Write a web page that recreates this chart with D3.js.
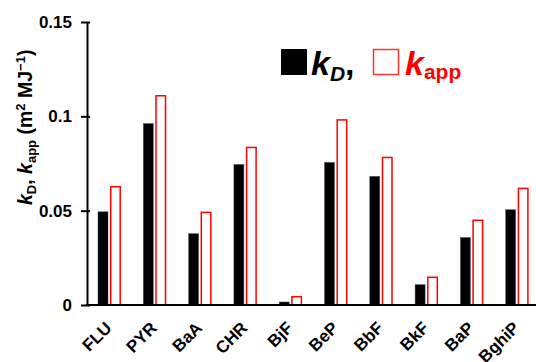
<!DOCTYPE html>
<html>
<head>
<meta charset="utf-8">
<script src="https://cdn.jsdelivr.net/npm/d3@7"></script>
<style>
  body { margin: 0; background: #fff; }
  text { font-family: "Liberation Sans", Arial, sans-serif; font-weight: bold; }
</style>
</head>
<body>
<div id="chart"></div>
<script>
// data
const compounds = ["FLU", "PYR", "BaA", "CHR", "BjF", "BeP", "BbF", "BkF", "BaP", "BghiP"]
const kD = [0.0494, 0.0962, 0.0378, 0.0745, 0.0016, 0.0756, 0.0682, 0.0108, 0.0358, 0.0505]
const kApp = [0.0627, 0.1109, 0.0491, 0.0835, 0.0044, 0.0981, 0.0782, 0.0147, 0.0449, 0.0618]
const yTicks = [0, 0.05, 0.1, 0.15]

const width = 536, height = 362
const margin = { top: 22, left: 87, bottom: 57 }

const svg = d3.select("#chart").append("svg")
    .attr("width", width)
    .attr("height", height)

const x = d3.scaleBand()
    .domain(compounds)
    .range([margin.left, margin.left + 10 * 45.3])

const y = d3.scaleLinear()
    .domain([0, 0.15])
    .range([height - margin.bottom, margin.top])

// bars
const barW = 10
svg.append("g").selectAll("rect")
    .data(compounds)
    .enter().append("rect")
    .attr("x", d => x(d) + 11)
    .attr("y", (d, i) => y(kD[i]))
    .attr("width", barW)
    .attr("height", (d, i) => y(0) - y(kD[i]))
    .attr("fill", "#000")
    .attr("stroke", "#555")
    .attr("stroke-width", 0.5)

svg.append("g").selectAll("rect")
    .data(compounds)
    .enter().append("rect")
    .attr("x", d => x(d) + 23.7)
    .attr("y", (d, i) => y(kApp[i]))
    .attr("width", barW - 0.5)
    .attr("height", (d, i) => y(0) - y(kApp[i]))
    .attr("fill", "#fff")
    .attr("stroke", "#f00")
    .attr("stroke-width", 1.5)

// y axis
const yAxis = svg.append("g")
    .attr("transform", `translate(${margin.left},0)`)
    .call(d3.axisLeft(y).tickValues(yTicks).tickSizeInner(6).tickSizeOuter(0)
        .tickFormat(d => d === 0 ? "0" : String(d)))
yAxis.select(".domain").attr("stroke-width", 2)
yAxis.selectAll(".tick line").attr("x2", 3).attr("x1", -6).attr("stroke-width", 2)
yAxis.selectAll(".tick text")
    .attr("x", -15)
    .attr("font-size", 17)
    .attr("font-family", "Liberation Sans, Arial, sans-serif")

// x axis
svg.append("line")
    .attr("x1", margin.left - 1).attr("x2", width)
    .attr("y1", y(0)).attr("y2", y(0))
    .attr("stroke", "#000")
    .attr("stroke-width", 2)

svg.append("g").selectAll("text")
    .data(compounds)
    .enter().append("text")
    .attr("transform", d => `translate(${x(d) + x.bandwidth() / 2 + 3},${y(0) + 24}) rotate(-45)`)
    .attr("text-anchor", "end")
    .attr("font-size", 17)
    .text(d => d)

// y title
const yt = svg.append("text")
    .attr("transform", `translate(32,205) rotate(-90)`)
    .attr("text-anchor", "start")
    .attr("font-size", 19.5)
yt.append("tspan").attr("font-style", "italic").text("k")
yt.append("tspan").attr("font-size", 13).attr("dy", 4).text("D")
yt.append("tspan").attr("dy", -4).text(", ")
yt.append("tspan").attr("font-style", "italic").text("k")
yt.append("tspan").attr("font-size", 13).attr("dy", 4).text("app")
yt.append("tspan").attr("dy", -4).text(" (m")
yt.append("tspan").attr("font-size", 13).attr("dy", -7).text("2")
yt.append("tspan").attr("dy", 7).text(" MJ")
yt.append("tspan").attr("font-size", 13).attr("dy", -7).text("\u22121")
yt.append("tspan").attr("dy", 7).text(")")

// legend
svg.append("rect")
    .attr("x", 281).attr("y", 49).attr("width", 26).attr("height", 26)
    .attr("fill", "#000")
const l1 = svg.append("text").attr("x", 311).attr("y", 75).attr("font-size", 34)
l1.append("tspan").attr("font-style", "italic").text("k")
l1.append("tspan").attr("font-style", "italic").attr("font-size", 21).attr("dy", 6).text("D")
l1.append("tspan").attr("dy", -6).text(",")

svg.append("rect")
    .attr("x", 373.5).attr("y", 49.5).attr("width", 25).attr("height", 25)
    .attr("fill", "#fff").attr("stroke", "#f33").attr("stroke-width", 1.5)
const l2 = svg.append("text").attr("x", 405).attr("y", 75).attr("font-size", 34).attr("fill", "#f00")
l2.append("tspan").attr("font-style", "italic").text("k")
l2.append("tspan").attr("font-size", 21).attr("dy", 4).text("app")
</script>
</body>
</html>
